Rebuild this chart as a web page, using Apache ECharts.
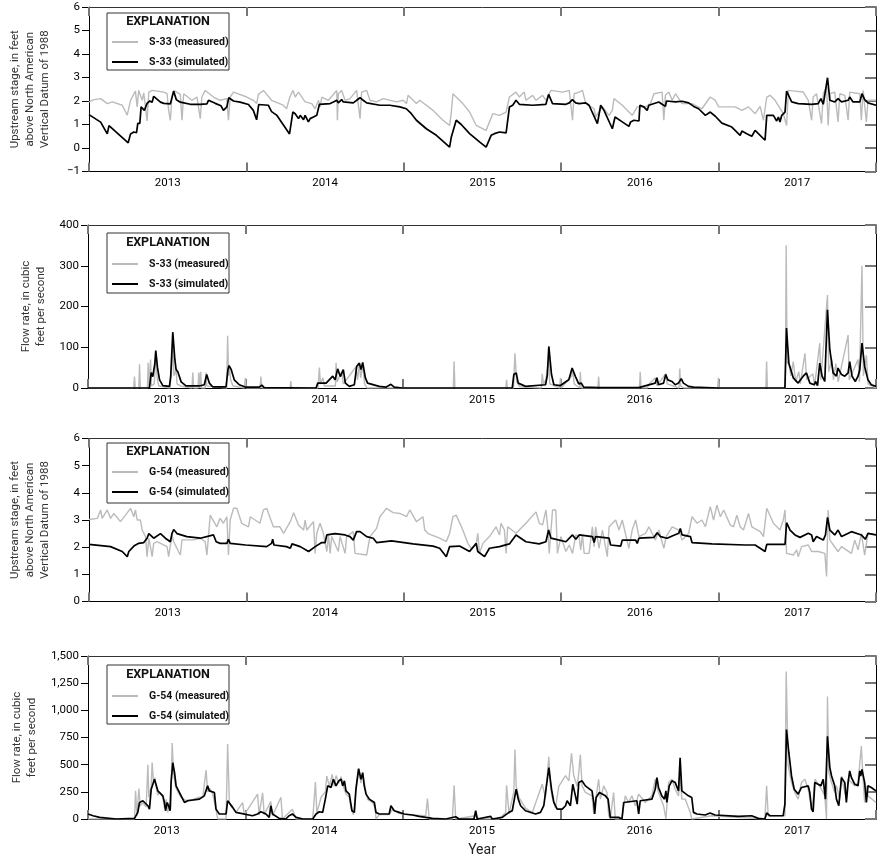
<!DOCTYPE html>
<html><head><meta charset="utf-8">
<script src="https://cdn.jsdelivr.net/npm/echarts@6/dist/echarts.min.js"></script>
<style>html,body{margin:0;padding:0;background:#fff}#c{width:879px;height:858px}</style>
</head><body><div id="c"></div>
<script>
// x values: years since start of plotted record (0..5); labels centred in each year
const yearLabels = ['2013', '2014', '2015', '2016', '2017'];

const s33StageMeasured = [[0,1.96],[0.032,2.06],[0.074,2.1],[0.116,1.89],[0.148,1.96],[0.211,1.82],[0.243,1.4],[0.264,2.03],[0.295,2.42],[0.306,1.75],[0.316,2.45],[0.338,2.03],[0.348,2.35],[0.369,1.15],[0.38,2.38],[0.401,2.45],[0.475,2.38],[0.496,2.31],[0.506,1.6],[0.517,1.18],[0.527,2.17],[0.538,2.45],[0.58,2.28],[0.591,1.18],[0.601,2.31],[0.654,2.03],[0.686,2.17],[0.707,1.25],[0.717,2.17],[0.738,2.45],[0.791,2.17],[0.833,2.03],[0.876,2.1],[0.886,1.18],[0.897,2.17],[0.918,2.38],[1.002,2.17],[1.044,2.03],[1.065,1.89],[1.076,2.28],[1.108,2.45],[1.16,2.03],[1.234,1.82],[1.255,1.67],[1.276,2.17],[1.296,2.45],[1.31,2.17],[1.331,2.38],[1.373,1.96],[1.415,1.89],[1.437,1.67],[1.458,2.03],[1.468,1.75],[1.479,2.17],[1.521,2.03],[1.574,2.45],[1.578,1.18],[1.584,2.31],[1.605,2.45],[1.627,2.03],[1.658,2.1],[1.7,2.45],[1.722,1.25],[1.732,2.38],[1.764,2.45],[1.785,2.03],[1.827,1.96],[1.869,2.1],[1.954,1.96],[1.996,2.03],[2.017,1.89],[2.027,2.24],[2.08,1.89],[2.101,2.03],[2.186,1.6],[2.249,1.18],[2.291,0.96],[2.302,1.53],[2.312,2.31],[2.333,2.17],[2.375,1.89],[2.418,1.53],[2.46,0.96],[2.523,0.75],[2.565,1.46],[2.608,1.39],[2.65,1.53],[2.671,2.17],[2.713,2.38],[2.734,2.17],[2.765,2.38],[2.776,2.03],[2.819,2.24],[2.84,2.03],[2.882,2.24],[2.903,2.03],[2.935,2.45],[3.009,2.38],[3.051,2.45],[3.072,1.18],[3.082,2.31],[3.114,2.38],[3.135,2.45],[3.156,1.89],[3.209,1.67],[3.219,1.32],[3.262,1.75],[3.304,1.39],[3.325,1.6],[3.335,2.1],[3.388,1.82],[3.451,1.39],[3.483,1.75],[3.536,1.75],[3.567,1.89],[3.589,2.31],[3.641,2.38],[3.652,1.18],[3.662,2.24],[3.684,2.38],[3.705,2.03],[3.726,2.31],[3.768,1.89],[3.831,1.89],[3.894,1.67],[3.947,2.17],[3.979,2.03],[4.0,1.75],[4.105,1.75],[4.148,1.6],[4.19,1.75],[4.232,1.46],[4.264,1.77],[4.285,1.18],[4.306,2.17],[4.327,2.24],[4.359,2.03],[4.411,1.46],[4.432,0.96],[4.443,2.45],[4.485,2.42],[4.538,2.38],[4.57,2.03],[4.591,1.18],[4.601,2.17],[4.622,2.31],[4.654,1.04],[4.665,2.31],[4.686,2.6],[4.696,0.96],[4.707,2.31],[4.738,2.38],[4.759,1.11],[4.77,2.31],[4.802,2.24],[4.823,1.18],[4.833,2.38],[4.897,2.31],[4.907,1.18],[4.918,2.45],[4.939,1.11],[4.949,2.03],[5,2.03]];

const s33StageSimulated = [[0,1.42],[0.074,1.1],[0.116,0.6],[0.127,0.95],[0.249,0.22],[0.264,0.6],[0.285,0.68],[0.302,0.65],[0.31,1.05],[0.323,1.05],[0.331,1.75],[0.352,1.6],[0.369,1.9],[0.386,2.0],[0.401,1.95],[0.411,2.2],[0.428,2.1],[0.454,1.95],[0.475,1.9],[0.517,1.88],[0.538,2.42],[0.555,2.05],[0.58,1.95],[0.643,1.86],[0.707,1.86],[0.749,1.88],[0.759,2.03],[0.802,1.9],[0.838,1.8],[0.854,1.6],[0.876,1.75],[0.888,2.14],[0.918,2.0],[0.96,1.95],[1.013,1.85],[1.044,1.6],[1.065,1.2],[1.078,1.85],[1.139,1.82],[1.16,1.55],[1.192,1.4],[1.274,0.6],[1.295,1.53],[1.31,1.46],[1.331,1.25],[1.342,1.39],[1.363,1.2],[1.373,1.39],[1.394,1.11],[1.405,1.25],[1.426,1.32],[1.447,1.39],[1.458,1.32],[1.464,1.86],[1.532,1.89],[1.553,1.96],[1.574,2.03],[1.584,1.92],[1.605,2.06],[1.616,1.96],[1.679,1.92],[1.7,2.03],[1.722,2.14],[1.742,2.03],[1.764,1.92],[1.848,1.82],[1.911,1.82],[1.975,1.75],[2.016,1.67],[2.048,1.46],[2.08,1.18],[2.143,0.82],[2.207,0.54],[2.291,0.04],[2.302,0.47],[2.312,0.55],[2.333,1.18],[2.365,1.0],[2.418,0.61],[2.481,0.26],[2.523,0.04],[2.555,0.54],[2.576,0.61],[2.608,0.68],[2.65,0.64],[2.671,1.74],[2.692,1.82],[2.713,2.03],[2.734,1.86],[2.819,1.82],[2.903,1.86],[2.92,2.28],[2.945,1.89],[3.03,1.86],[3.051,1.92],[3.071,2.06],[3.092,1.92],[3.114,1.89],[3.156,1.92],[3.177,1.82],[3.23,1.04],[3.251,1.82],[3.272,1.6],[3.325,0.82],[3.342,1.32],[3.388,1.11],[3.43,0.92],[3.441,1.11],[3.462,1.18],[3.494,1.15],[3.5,1.82],[3.525,1.75],[3.546,1.6],[3.557,1.82],[3.62,1.96],[3.641,1.86],[3.662,1.77],[3.669,2.0],[3.726,1.96],[3.768,1.99],[3.81,1.92],[3.842,1.77],[3.873,1.67],[3.916,1.39],[3.947,1.53],[3.979,1.35],[4.021,1.06],[4.084,0.89],[4.137,0.54],[4.148,0.72],[4.179,0.61],[4.211,0.5],[4.232,0.75],[4.295,0.33],[4.306,1.39],[4.348,1.39],[4.369,1.15],[4.38,1.32],[4.39,1.11],[4.401,1.39],[4.422,1.53],[4.432,2.42],[4.464,1.96],[4.506,1.89],[4.591,1.86],[4.633,1.89],[4.65,2.1],[4.665,1.86],[4.692,2.99],[4.707,2.03],[4.738,1.96],[4.759,2.1],[4.781,1.96],[4.823,2.03],[4.833,2.17],[4.854,1.96],[4.897,1.96],[4.911,2.31],[4.928,2.06],[4.949,1.92],[5,1.82]];

const s33FlowMeasured = [[0,0],[0.29,0],[0.295,28],[0.3,0],[0.322,0],[0.327,58],[0.332,0],[0.377,0],[0.382,62],[0.387,0],[0.392,0],[0.397,70],[0.402,5],[0.42,10],[0.43,75],[0.44,20],[0.45,5],[0.52,0],[0.53,40],[0.538,110],[0.545,30],[0.559,45],[0.565,10],[0.585,5],[0.66,0],[0.665,38],[0.67,0],[0.698,0],[0.703,38],[0.708,0],[0.711,0],[0.715,40],[0.72,0],[0.744,0],[0.749,38],[0.754,5],[0.88,0],[0.886,128],[0.892,30],[0.897,50],[0.905,20],[0.92,5],[0.993,0],[0.998,25],[1.003,0],[1.092,0],[1.097,28],[1.102,0],[1.282,0],[1.287,17],[1.292,0],[1.46,0],[1.468,50],[1.475,10],[1.49,25],[1.5,5],[1.57,5],[1.574,62],[1.58,15],[1.61,40],[1.62,10],[1.7,52],[1.71,20],[1.722,60],[1.73,25],[1.743,58],[1.755,10],[1.77,0],[2.318,0],[2.323,65],[2.328,0],[2.651,0],[2.656,20],[2.661,0],[2.7,0],[2.709,85],[2.72,15],[2.74,3],[2.877,0],[2.882,35],[2.89,10],[2.905,20],[2.924,70],[2.93,10],[2.993,0],[2.998,25],[3.003,0],[3.07,30],[3.075,45],[3.085,10],[3.119,0],[3.124,40],[3.129,0],[3.235,0],[3.24,28],[3.245,0],[3.499,0],[3.504,40],[3.509,0],[3.55,0],[3.555,8],[3.6,25],[3.61,5],[3.666,35],[3.675,10],[3.75,0],[3.755,48],[3.76,5],[3.78,0],[3.995,0],[4.0,25],[4.005,0],[4.301,0],[4.306,65],[4.311,0],[4.425,0],[4.43,350],[4.436,60],[4.445,65],[4.46,30],[4.475,65],[4.49,15],[4.51,40],[4.52,10],[4.549,85],[4.56,20],[4.6,35],[4.61,5],[4.643,110],[4.65,20],[4.692,228],[4.7,40],[4.72,70],[4.73,20],[4.745,60],[4.76,15],[4.823,130],[4.83,20],[4.886,70],[4.895,15],[4.911,300],[4.92,30],[4.939,80],[4.95,10],[5,0]];

const s33FlowSimulated = [[0,0],[0.39,0],[0.401,38],[0.411,28],[0.424,60],[0.43,92],[0.441,50],[0.454,20],[0.475,6],[0.517,4],[0.525,30],[0.538,137],[0.551,70],[0.559,45],[0.57,40],[0.591,15],[0.622,5],[0.707,5],[0.738,8],[0.753,33],[0.77,12],[0.791,3],[0.876,3],[0.888,45],[0.895,55],[0.909,45],[0.928,20],[0.96,8],[1.002,2],[1.086,2],[1.103,7],[1.118,1],[1.447,0],[1.458,12],[1.511,12],[1.553,29],[1.568,20],[1.584,47],[1.601,28],[1.62,45],[1.633,12],[1.658,4],[1.69,8],[1.705,53],[1.722,61],[1.732,45],[1.743,63],[1.76,25],[1.774,12],[1.848,4],[1.89,2],[1.922,9],[1.943,2],[1.996,0],[2.692,0],[2.702,33],[2.717,37],[2.73,12],[2.776,4],[2.903,8],[2.914,30],[2.924,102],[2.941,33],[2.956,8],[2.998,6],[3.034,16],[3.051,20],[3.072,49],[3.093,28],[3.114,10],[3.13,12],[3.145,2],[3.24,1],[3.494,1],[3.599,12],[3.61,25],[3.62,8],[3.652,12],[3.666,33],[3.679,20],[3.705,16],[3.726,8],[3.747,12],[3.764,23],[3.778,12],[3.81,4],[3.842,2],[4.0,0],[4.422,0],[4.432,147],[4.447,61],[4.475,25],[4.506,12],[4.538,29],[4.559,37],[4.58,12],[4.608,8],[4.616,16],[4.629,6],[4.643,61],[4.658,29],[4.675,16],[4.692,192],[4.707,94],[4.728,37],[4.749,29],[4.759,49],[4.781,33],[4.802,29],[4.823,37],[4.833,65],[4.848,29],[4.869,16],[4.886,29],[4.897,45],[4.911,110],[4.928,53],[4.949,20],[4.97,8],[5,4]];

const g54StageMeasured = [[0,3.02],[0.053,3.06],[0.074,3.37],[0.084,3.06],[0.116,3.37],[0.137,3.06],[0.158,3.24],[0.2,2.94],[0.232,3.18],[0.264,3.43],[0.285,3.12],[0.295,3.37],[0.306,3.0],[0.327,3.0],[0.338,2.63],[0.359,2.39],[0.369,1.65],[0.38,2.33],[0.39,2.02],[0.401,1.65],[0.411,2.14],[0.432,2.2],[0.496,2.02],[0.506,1.65],[0.517,1.71],[0.527,2.45],[0.538,2.2],[0.58,1.71],[0.591,2.27],[0.665,2.27],[0.707,2.33],[0.738,2.2],[0.749,1.71],[0.759,2.39],[0.77,3.18],[0.812,2.75],[0.833,3.06],[0.854,2.88],[0.876,3.12],[0.886,1.71],[0.897,3.0],[0.918,3.43],[0.939,3.43],[0.97,2.88],[1.013,2.75],[1.025,3.12],[1.086,2.88],[1.108,3.37],[1.129,3.43],[1.171,2.75],[1.213,2.75],[1.236,2.51],[1.279,2.94],[1.3,3.27],[1.331,2.82],[1.363,2.63],[1.373,3.0],[1.384,2.63],[1.426,2.94],[1.437,1.77],[1.447,2.51],[1.468,2.88],[1.489,2.51],[1.511,1.84],[1.521,2.45],[1.532,1.77],[1.542,2.39],[1.584,1.84],[1.595,2.39],[1.627,1.77],[1.637,2.39],[1.679,2.57],[1.69,1.77],[1.764,1.71],[1.785,2.39],[1.827,2.69],[1.848,3.12],[1.89,3.43],[1.932,3.27],[1.975,3.24],[2.017,3.12],[2.038,3.37],[2.08,2.94],[2.122,3.12],[2.133,2.63],[2.154,2.5],[2.228,2.33],[2.27,2.2],[2.291,2.51],[2.312,3.12],[2.333,3.18],[2.375,2.63],[2.407,2.14],[2.428,1.96],[2.46,2.08],[2.47,2.51],[2.481,1.77],[2.502,2.14],[2.544,2.39],[2.586,2.75],[2.608,2.45],[2.618,2.88],[2.639,2.63],[2.65,1.77],[2.66,2.75],[2.713,2.51],[2.776,2.88],[2.84,3.3],[2.861,2.88],[2.882,2.82],[2.903,3.37],[2.914,2.75],[2.924,1.77],[2.945,3.37],[2.966,3.37],[2.976,1.77],[2.998,2.39],[3.03,1.84],[3.051,2.08],[3.072,1.77],[3.093,2.45],[3.114,2.4],[3.124,1.9],[3.135,2.45],[3.146,1.77],[3.177,1.77],[3.198,2.75],[3.209,2.02],[3.219,2.75],[3.24,1.96],[3.262,2.63],[3.293,1.65],[3.304,2.75],[3.346,3.0],[3.367,2.63],[3.388,3.0],[3.43,1.96],[3.451,2.63],[3.473,3.0],[3.494,2.39],[3.536,2.51],[3.557,2.75],[3.599,2.26],[3.62,2.63],[3.652,1.96],[3.667,2.39],[3.705,2.75],[3.747,2.63],[3.768,2.26],[3.81,2.51],[3.831,3.12],[3.863,2.88],[3.894,3.0],[3.916,2.75],[3.947,3.49],[3.968,3.0],[3.989,3.55],[4.011,3.12],[4.032,3.37],[4.074,2.82],[4.095,2.75],[4.116,3.18],[4.137,2.75],[4.158,2.63],[4.19,3.24],[4.211,2.75],[4.264,2.57],[4.285,2.39],[4.306,3.43],[4.348,2.88],[4.39,2.63],[4.411,3.0],[4.422,3.37],[4.432,1.77],[4.475,1.71],[4.496,1.9],[4.506,1.65],[4.527,2.02],[4.57,2.08],[4.591,1.84],[4.633,1.84],[4.675,1.77],[4.686,0.92],[4.696,3.37],[4.707,2.26],[4.759,1.84],[4.781,2.02],[4.844,1.77],[4.865,2.26],[4.886,1.9],[4.907,2.51],[4.928,1.71],[4.949,2.51],[5,2.45]];

const g54StageSimulated = [[0,2.1],[0.137,2.02],[0.211,1.84],[0.243,1.65],[0.253,1.84],[0.285,2.04],[0.316,2.14],[0.348,2.17],[0.369,2.33],[0.38,2.5],[0.411,2.33],[0.454,2.5],[0.485,2.33],[0.517,2.2],[0.527,2.5],[0.538,2.65],[0.559,2.5],[0.622,2.39],[0.707,2.33],[0.791,2.45],[0.808,2.2],[0.833,2.14],[0.876,2.14],[0.886,2.29],[0.897,2.14],[0.996,2.08],[1.129,2.02],[1.16,2.14],[1.167,2.29],[1.175,2.08],[1.255,2.02],[1.279,1.96],[1.29,2.12],[1.342,2.02],[1.395,1.84],[1.437,2.02],[1.479,2.17],[1.5,2.17],[1.511,2.45],[1.563,2.5],[1.627,2.45],[1.658,2.39],[1.679,2.26],[1.7,2.57],[1.722,2.57],[1.764,2.39],[1.806,2.33],[1.827,2.17],[1.922,2.23],[2.059,2.12],[2.186,2.04],[2.228,1.96],[2.27,1.65],[2.291,2.02],[2.354,2.04],[2.418,1.84],[2.46,2.14],[2.47,1.84],[2.513,1.65],[2.544,1.96],[2.608,2.02],[2.671,2.12],[2.713,2.45],[2.776,2.2],[2.86,2.12],[2.903,2.2],[2.92,2.63],[2.935,2.33],[3.03,2.2],[3.072,2.45],[3.093,2.29],[3.114,2.45],[3.198,2.39],[3.209,2.17],[3.219,2.39],[3.304,2.33],[3.314,2.08],[3.378,2.04],[3.388,2.26],[3.473,2.26],[3.483,2.14],[3.494,2.33],[3.589,2.36],[3.61,2.53],[3.631,2.39],[3.673,2.33],[3.705,2.41],[3.747,2.51],[3.757,2.69],[3.768,2.45],[3.821,2.39],[3.831,2.17],[3.958,2.12],[4.169,2.08],[4.232,2.08],[4.264,1.96],[4.295,1.84],[4.306,2.1],[4.422,2.1],[4.432,2.9],[4.454,2.63],[4.485,2.45],[4.517,2.36],[4.57,2.51],[4.591,2.45],[4.601,2.2],[4.622,2.39],[4.665,2.26],[4.679,2.45],[4.692,3.1],[4.707,2.63],[4.738,2.45],[4.759,2.63],[4.781,2.39],[4.844,2.57],[4.907,2.45],[4.932,2.29],[4.949,2.51],[5,2.45]];

const g54FlowMeasured = [[0,0],[0.295,0],[0.302,259],[0.31,30],[0.323,280],[0.331,120],[0.348,150],[0.369,110],[0.38,500],[0.386,200],[0.401,300],[0.407,520],[0.416,330],[0.424,380],[0.432,300],[0.443,220],[0.454,250],[0.475,200],[0.485,100],[0.496,180],[0.506,60],[0.517,150],[0.525,90],[0.534,700],[0.542,450],[0.555,300],[0.57,250],[0.591,200],[0.622,170],[0.665,180],[0.707,200],[0.728,200],[0.749,450],[0.759,250],[0.774,280],[0.791,230],[0.808,120],[0.823,0],[0.876,0],[0.886,690],[0.897,150],[0.918,100],[0.939,60],[0.981,150],[0.992,40],[1.076,230],[1.086,40],[1.108,240],[1.118,40],[1.16,160],[1.171,30],[1.224,200],[1.234,0],[1.297,90],[1.319,0],[1.426,0],[1.443,341],[1.452,60],[1.464,120],[1.479,200],[1.506,250],[1.515,396],[1.532,300],[1.549,410],[1.563,300],[1.574,400],[1.591,330],[1.606,390],[1.62,300],[1.637,230],[1.658,200],[1.669,100],[1.684,40],[1.7,250],[1.717,450],[1.732,330],[1.743,420],[1.76,280],[1.774,180],[1.806,150],[1.823,100],[1.827,0],[1.848,40],[1.911,40],[1.932,90],[1.975,50],[2.017,40],[2.143,30],[2.154,189],[2.165,0],[2.312,0],[2.323,311],[2.333,0],[2.46,30],[2.481,0],[2.608,0],[2.65,60],[2.656,311],[2.671,50],[2.702,250],[2.709,640],[2.717,300],[2.734,200],[2.776,100],[2.819,60],[2.882,320],[2.903,200],[2.924,573],[2.935,300],[2.945,200],[2.966,100],[2.987,300],[3.009,350],[3.03,400],[3.051,350],[3.068,604],[3.082,400],[3.104,300],[3.114,427],[3.124,594],[3.135,305],[3.156,244],[3.198,213],[3.209,46],[3.24,366],[3.251,183],[3.272,305],[3.293,244],[3.304,30],[3.314,0],[3.335,244],[3.346,0],[3.388,0],[3.409,213],[3.43,152],[3.451,213],[3.473,122],[3.494,229],[3.536,152],[3.578,213],[3.599,366],[3.62,244],[3.652,122],[3.667,0],[3.684,335],[3.705,366],[3.726,274],[3.747,213],[3.757,427],[3.768,183],[3.789,183],[3.821,61],[3.831,0],[3.958,30],[4.295,0],[4.306,305],[4.316,30],[4.422,30],[4.43,1357],[4.443,488],[4.464,335],[4.485,244],[4.506,183],[4.527,335],[4.549,366],[4.57,274],[4.591,91],[4.601,183],[4.612,366],[4.654,274],[4.675,213],[4.686,0],[4.692,1128],[4.701,427],[4.718,335],[4.738,244],[4.749,305],[4.77,183],[4.781,396],[4.802,244],[4.812,183],[4.823,366],[4.865,305],[4.886,335],[4.907,671],[4.918,366],[4.928,152],[4.939,305],[4.949,213],[5,152]];

const g54FlowSimulated = [[0,46],[0.032,30],[0.074,15],[0.179,0],[0.295,6],[0.316,61],[0.327,152],[0.348,168],[0.38,122],[0.39,91],[0.401,274],[0.422,366],[0.432,350],[0.443,259],[0.475,213],[0.485,152],[0.492,76],[0.502,152],[0.511,122],[0.521,76],[0.527,335],[0.538,518],[0.549,427],[0.559,305],[0.591,213],[0.612,152],[0.633,168],[0.707,183],[0.738,213],[0.749,198],[0.759,305],[0.77,259],[0.781,274],[0.802,244],[0.812,91],[0.833,46],[0.876,46],[0.886,168],[0.897,183],[0.918,107],[0.939,61],[1.044,30],[1.076,46],[1.097,67],[1.129,46],[1.15,15],[1.16,122],[1.171,46],[1.213,6],[1.255,0],[1.276,30],[1.297,46],[1.321,15],[1.363,0],[1.426,0],[1.447,46],[1.468,67],[1.489,61],[1.506,183],[1.521,305],[1.542,290],[1.557,366],[1.574,305],[1.591,351],[1.606,366],[1.616,305],[1.627,351],[1.637,259],[1.658,229],[1.675,76],[1.69,61],[1.7,274],[1.717,463],[1.732,366],[1.743,427],[1.753,305],[1.764,229],[1.785,183],[1.817,152],[1.827,61],[1.848,46],[1.911,46],[1.922,122],[1.943,76],[1.975,61],[2.006,46],[2.059,37],[2.101,24],[2.186,6],[2.27,0],[2.333,21],[2.354,0],[2.449,0],[2.46,76],[2.47,0],[2.555,24],[2.565,0],[2.628,15],[2.671,61],[2.692,76],[2.709,213],[2.717,274],[2.73,183],[2.745,122],[2.776,76],[2.84,46],[2.871,61],[2.892,122],[2.903,107],[2.924,473],[2.941,274],[2.956,152],[2.977,91],[3.009,91],[3.03,122],[3.04,168],[3.061,122],[3.076,320],[3.093,213],[3.104,137],[3.114,335],[3.135,351],[3.156,305],[3.198,259],[3.209,152],[3.215,46],[3.224,198],[3.245,244],[3.283,213],[3.3,183],[3.314,15],[3.367,15],[3.388,0],[3.399,152],[3.483,168],[3.494,46],[3.504,168],[3.578,183],[3.599,274],[3.61,381],[3.62,290],[3.641,213],[3.658,183],[3.667,259],[3.673,152],[3.688,305],[3.705,351],[3.726,335],[3.747,259],[3.757,564],[3.768,259],[3.81,213],[3.831,198],[3.842,61],[3.863,46],[3.916,37],[3.947,55],[3.979,37],[4.127,24],[4.211,30],[4.253,6],[4.295,0],[4.306,55],[4.327,30],[4.411,30],[4.422,137],[4.432,823],[4.447,610],[4.464,396],[4.481,274],[4.506,229],[4.527,290],[4.57,305],[4.58,244],[4.591,91],[4.601,67],[4.612,335],[4.65,305],[4.665,366],[4.679,183],[4.686,183],[4.692,762],[4.707,473],[4.718,396],[4.738,305],[4.749,183],[4.764,122],[4.781,381],[4.802,335],[4.812,152],[4.823,335],[4.833,442],[4.844,381],[4.865,320],[4.886,305],[4.897,442],[4.903,396],[4.911,457],[4.928,335],[4.939,152],[4.949,305],[4.97,290],[5,259]];

const FONT = "Roboto, 'Liberation Sans', sans-serif";
const GRAY = '#bbbbbb';

const panels = [
  { site: 'S-33', top: 7, height: 164.5, min: -1, max: 6, interval: 1, nameGap: 36,
    name: 'Upstream stage, in feet\nabove North American\nVertical Datum of 1988',
    measured: s33StageMeasured, simulated: s33StageSimulated,
    box: [107, 13, 122, 57], titleY: 22, legendTop: 35 },
  { site: 'S-33', top: 225, height: 163, min: 0, max: 400, interval: 100, nameGap: 38,
    name: 'Flow rate, in cubic\nfeet per second',
    measured: s33FlowMeasured, simulated: s33FlowSimulated,
    box: [107, 233, 122, 60], titleY: 243, legendTop: 257 },
  { site: 'G-54', top: 438.5, height: 163, min: 0, max: 6, interval: 1, nameGap: 36,
    name: 'Upstream stage, in feet\nabove North American\nVertical Datum of 1988',
    measured: g54StageMeasured, simulated: g54StageSimulated,
    box: [107, 443, 122, 60], titleY: 452, legendTop: 465 },
  { site: 'G-54', top: 656, height: 164, min: 0, max: 1500, interval: 250, nameGap: 38,
    name: 'Flow rate, in cubic\nfeet per second',
    measured: g54FlowMeasured, simulated: g54FlowSimulated,
    box: [107, 665, 122, 59], titleY: 675, legendTop: 689 }
];

function fmtY(v) {
  const a = Math.abs(v);
  const s = a >= 1000 ? String(a).replace(/\B(?=(\d{3})+(?!\d))/g, ',') : String(a);
  return (v < 0 ? '\u2212' : '') + s;
}

const grid = [], xAxis = [], yAxis = [], series = [], legend = [], graphic = [];
panels.forEach((p, i) => {
  grid.push({ left: 88, width: 790, top: p.top, height: p.height });
  const baseX = { gridIndex: i, type: 'value', min: 0, max: 5, splitLine: { show: false } };
  xAxis.push(Object.assign({}, baseX, { interval: 1, position: 'bottom',
    axisLine: { show: true, onZero: false, lineStyle: { color: '#000', width: 1 } },
    axisTick: { show: true, inside: true, length: 9, lineStyle: { color: '#777', width: 2 } },
    axisLabel: { show: false } }));
  xAxis.push(Object.assign({}, baseX, { interval: 1, position: 'top',
    axisLine: { show: true, onZero: false, lineStyle: { color: '#333', width: 1 } },
    axisTick: { show: true, inside: true, length: 9, lineStyle: { color: '#777', width: 2 } },
    axisLabel: { show: false } }));
  const lab = Object.assign({}, baseX, { interval: 0.5, position: 'bottom',
    axisLine: { show: false, onZero: false }, axisTick: { show: false },
    axisLabel: { margin: 6, fontSize: 11.5, color: '#000', fontFamily: FONT,
      formatter: v => (Math.abs(v % 1 - 0.5) < 1e-6 ? yearLabels[Math.floor(v)] : '') } });
  if (i === 3) {
    Object.assign(lab, { name: 'Year', nameLocation: 'middle', nameGap: 24,
      nameTextStyle: { fontSize: 14, color: '#222', fontFamily: FONT } });
  }
  xAxis.push(lab);

  const baseY = { gridIndex: i, type: 'value', min: p.min, max: p.max, interval: p.interval,
    splitLine: { show: false } };
  yAxis.push(Object.assign({}, baseY, { position: 'left',
    axisLine: { show: true, onZero: false, lineStyle: { color: '#000', width: 1 } },
    axisTick: { show: true, length: 7, lineStyle: { color: '#000', width: 1 } },
    axisLabel: { margin: 9, fontSize: 11.5, color: '#000', fontFamily: FONT, formatter: fmtY },
    name: p.name, nameLocation: 'middle', nameRotate: 90, nameGap: p.nameGap,
    nameTextStyle: { fontSize: 11.5, lineHeight: 15, color: '#333', fontFamily: FONT, align: 'center' } }));
  yAxis.push(Object.assign({}, baseY, { position: 'right',
    axisLine: { show: true, onZero: false, lineStyle: { color: '#000', width: 1 } },
    axisTick: { show: true, inside: true, length: 11, lineStyle: { color: '#777', width: 2 } },
    axisLabel: { show: false } }));

  const mName = p.site + ' (measured)', sName = p.site + ' (simulated)';
  series.push({ name: mName, type: 'line', xAxisIndex: 3 * i, yAxisIndex: 2 * i,
    data: p.measured, showSymbol: false, symbol: 'none', z: 2,
    lineStyle: { color: GRAY, width: 1.4 }, itemStyle: { color: GRAY } });
  series.push({ name: sName, type: 'line', xAxisIndex: 3 * i, yAxisIndex: 2 * i,
    data: p.simulated, showSymbol: false, symbol: 'none', z: 3,
    lineStyle: { color: '#000', width: 1.7 }, itemStyle: { color: '#000' } });

  legend.push({ data: [mName, sName], orient: 'vertical', left: 112, top: p.legendTop,
    padding: 0, itemGap: 6, itemWidth: 26, itemHeight: 2, icon: 'rect', selectedMode: false, z: 6,
    textStyle: { fontSize: 10.5, lineHeight: 14, fontWeight: 'bold', color: '#111', fontFamily: FONT, padding: [0, 0, 0, 6] } });

  graphic.push({ type: 'rect', z: 5, shape: { x: p.box[0], y: p.box[1], width: p.box[2], height: p.box[3] },
    style: { fill: '#fff', stroke: '#333', lineWidth: 1 } });
  graphic.push({ type: 'text', z: 6, x: p.box[0] + p.box[2] / 2, y: p.titleY,
    style: { text: 'EXPLANATION', fill: '#111', font: 'bold 12.5px ' + FONT,
      textAlign: 'center', textVerticalAlign: 'middle', align: 'center', verticalAlign: 'middle' } });
});

const chart = echarts.init(document.getElementById('c'), null, { renderer: 'canvas' });
chart.setOption({ animation: false, backgroundColor: '#fff', grid, xAxis, yAxis, series, legend, graphic });
</script>
</body></html>
